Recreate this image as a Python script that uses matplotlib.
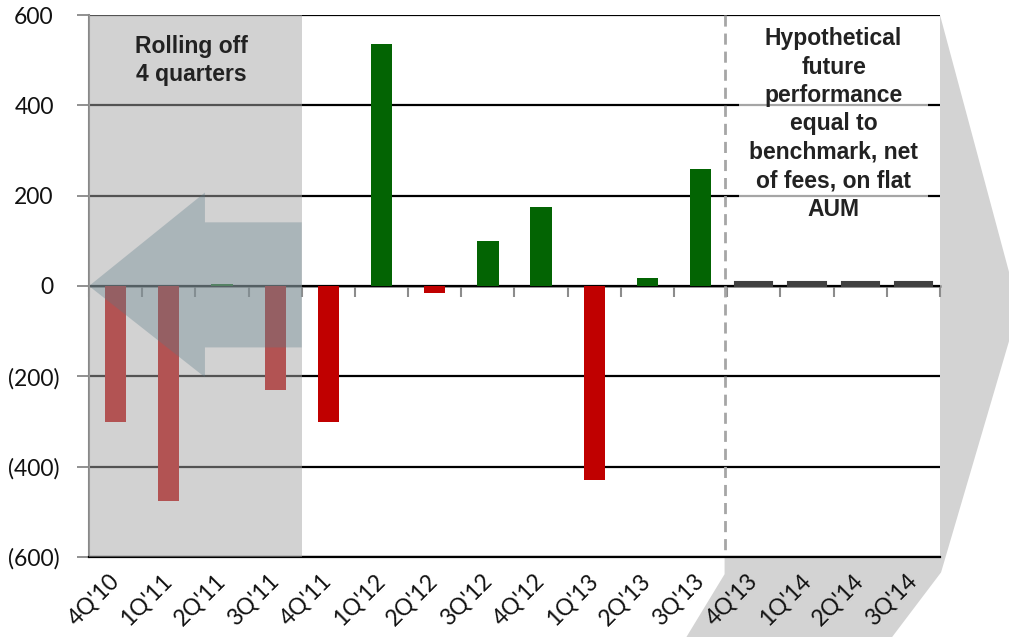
import numpy as np
import matplotlib
matplotlib.use("Agg")
import matplotlib.pyplot as plt
from matplotlib.patches import Polygon
from matplotlib.transforms import ScaledTranslation

# ---- data ----
quarters = ["4Q'10", "1Q'11", "2Q'11", "3Q'11", "4Q'11", "1Q'12", "2Q'12", "3Q'12",
            "4Q'12", "1Q'13", "2Q'13", "3Q'13", "4Q'13", "1Q'14", "2Q'14", "3Q'14"]
values = [-300, -475, 5, -230, -300, 535, -15, 100, 175, -430, 17, 258, 8, 8, 8, 8]
n_actual = 12          # quarters with actual results
n_rolling = 4          # quarters rolling off
y_ticks = [-600, -400, -200, 0, 200, 400, 600]
y_labels = ["(600)", "(400)", "(200)", "0", "200", "400", "600"]

GREEN = "#036403"
RED = "#C00000"
FCST = "#404040"

fig = plt.figure(figsize=(10.09, 6.37), dpi=100)
ax = fig.add_axes([89/1009, 1 - 557/637, (940-89)/1009, (557-15)/637])

x = np.arange(len(quarters))
colors = [FCST if i >= n_actual else (GREEN if v >= 0 else RED) for i, v in enumerate(values)]
widths = [0.7 if i >= n_actual else 0.4 for i in range(len(values))]
for i in range(len(values)):
    lw = 1.5 if i >= n_actual else 0
    ax.bar(x[i], values[i], width=widths[i], color=colors[i], edgecolor=colors[i],
           linewidth=lw, zorder=3)

ax.set_xlim(-0.5, len(quarters) - 0.5)
ax.set_ylim(-600, 600)

# gridlines
ax.set_yticks(y_ticks)
ax.set_yticklabels(y_labels)
ax.yaxis.grid(True, color="black", linewidth=1.6, zorder=1)
ax.set_axisbelow(True)

# spines
for s in ["top", "right"]:
    ax.spines[s].set_visible(False)
ax.spines["left"].set_color("#888888")
ax.spines["left"].set_linewidth(1.5)
ax.spines["bottom"].set_color("black")
ax.spines["bottom"].set_linewidth(1.6)

# y tick labels
ax.tick_params(axis="y", direction="out", length=9, width=1.3, color="#888888",
               pad=12, labelsize=16.5, labelcolor="#111111")
for lbl in ax.get_yticklabels():
    lbl.set_fontfamily(["Lato", "DejaVu Sans"])
    if not lbl.get_text().startswith("("):
        lbl.set_transform(lbl.get_transform() + ScaledTranslation(-6/100, 0, fig.dpi_scale_trans))

# x tick labels
ax.set_xticks(x)
ax.set_xticklabels(quarters, rotation=45, ha="right", va="center", rotation_mode="anchor",
                   fontsize=16.5, color="#111111", fontfamily=["Lato", "DejaVu Sans"])
ax.tick_params(axis="x", length=0, pad=15)

# zero axis line with category boundary ticks
sec = ax.secondary_xaxis(0.5)
sec.set_alignment("bottom")
sec.set_xticks(np.arange(-0.5, len(quarters), 1.0))
sec.set_xticklabels([])
sec.tick_params(axis="x", direction="out", length=8, width=1.5, color="#8C8C8C")
sec.spines["bottom"].set_color("#8C8C8C")
sec.spines["bottom"].set_linewidth(1.8)

# rolling-off shade
ax.axvspan(-0.5, n_rolling - 0.5, color="#A6A6A6", alpha=0.5, lw=0, zorder=4)

# left arrow
arrow = Polygon([(-0.5, 0), (1.68, 207), (1.68, 141), (n_rolling - 0.5, 141),
                 (n_rolling - 0.5, -136), (1.68, -136), (1.68, -202)],
                closed=True, facecolor="#587986", alpha=0.32, lw=0, zorder=5)
ax.add_patch(arrow)

ax.text(1.42, 555, "Rolling off\n4 quarters", ha="center", va="top", fontsize=16.5,
        fontweight="bold", family="Liberation Sans", color="#222222", zorder=6,
        linespacing=1.25)

# dashed separator
ax.plot([n_actual - 0.55, n_actual - 0.55], [600, -585], linestyle=(0, (4, 2.5)),
        color="#A6A6A6", lw=2, zorder=2)

# hypothetical text box
ax.text(13.5, 573, "Hypothetical\nfuture\nperformance\nequal to\nbenchmark, net\nof fees, on flat\nAUM",
        ha="center", va="top", fontsize=16.5, fontweight="bold", family="Liberation Sans",
        color="#222222", zorder=6, linespacing=1.3,
        bbox=dict(boxstyle="square,pad=0.45", facecolor="white", alpha=0.65, edgecolor="none"))

# right chevron (behind axes)
chev = Polygon([(n_actual - 0.55, 600), (15.5, 600), (16.98, -49), (15.52, -634),
                (14.26, -830), (10.46, -830), (n_actual - 0.55, -638)],
               closed=True, facecolor="#D3D3D3", edgecolor="none", transform=ax.transData,
               zorder=-1)
fig.patches.append(chev)
chev.set_figure(fig)

fig.savefig("out.png", dpi=100)
